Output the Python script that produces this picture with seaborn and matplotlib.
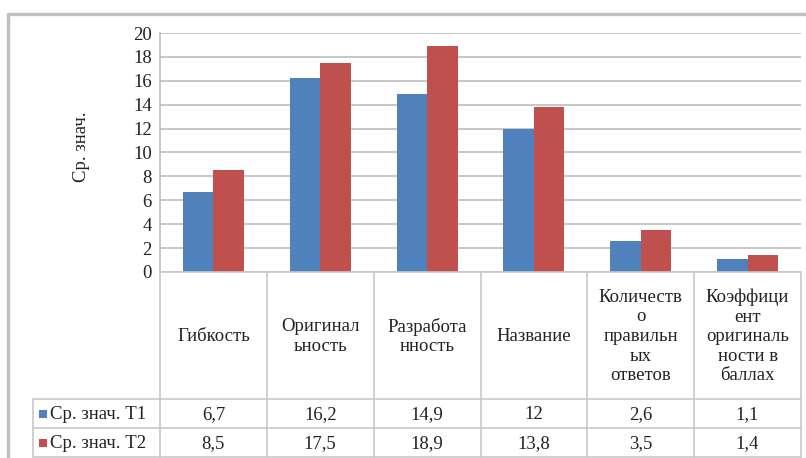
import matplotlib
matplotlib.use("Agg")
import matplotlib.pyplot as plt
from matplotlib import font_manager
import seaborn as sns
import pandas as pd
from matplotlib.lines import Line2D
from matplotlib.patches import Rectangle

# Data
categories = [
    "Гибкость",
    "Оригинал\nьность",
    "Разработа\nнность",
    "Название",
    "Количеств\nо\nправильн\nых\nответов",
    "Коэффици\nент\nоригиналь\nности в\nбаллах",
]
series_names = ["Ср. знач. Т1", "Ср. знач. Т2"]
t1_values = [6.7, 16.2, 14.9, 12, 2.6, 1.1]
t2_values = [8.5, 17.5, 18.9, 13.8, 3.5, 1.4]
y_ticks = [0, 2, 4, 6, 8, 10, 12, 14, 16, 18, 20]
colors = ["#4F81BD", "#C0504D"]

df = pd.DataFrame({
    "cat": categories * 2,
    "series": [series_names[0]] * len(categories) + [series_names[1]] * len(categories),
    "value": t1_values + t2_values,
})


def pick_serif():
    """Register a Times-like serif face from the system fonts, if any."""
    files = font_manager.findSystemFonts()
    prefs = ["liberationserif-regular", "timesnewroman", "times.ttf",
             "dejavuserif.ttf", "notoserif-regular"]
    for pref in prefs:
        for f in files:
            if pref in f.lower().replace(" ", ""):
                try:
                    font_manager.fontManager.addfont(f)
                    return font_manager.FontProperties(fname=f).get_name()
                except Exception:
                    pass
    for f in files:
        low = f.lower()
        if "serif" in low and "sans" not in low and "bold" not in low and "italic" not in low:
            try:
                font_manager.fontManager.addfont(f)
                return font_manager.FontProperties(fname=f).get_name()
            except Exception:
                pass
    return "DejaVu Serif"


sns.set_theme(style="white")
serif_name = pick_serif()
plt.rcParams["font.family"] = [serif_name, "DejaVu Serif", "DejaVu Sans"]

FS = 13.5
TXT = "#222222"

W, H = 806, 458
fig = plt.figure(figsize=(W / 100, H / 100), dpi=100)
fig.patch.set_facecolor("white")

# plot area in pixel coordinates
x0, x1 = 160, 801
y_top, y_zero = 33, 272
ax = fig.add_axes([x0 / W, 1 - y_zero / H, (x1 - x0) / W, (y_zero - y_top) / H])

sns.barplot(data=df, x="cat", y="value", hue="series", palette=colors,
            width=0.57, linewidth=0, saturation=1, ax=ax, legend=False)

ax.set_ylim(0, 20)
ax.set_xlim(-0.5, len(categories) - 0.5)
ax.set_yticks(y_ticks)
ax.set_yticklabels([str(t) for t in y_ticks], fontsize=FS, color=TXT)
ax.set_xticks([])
ax.set_xlabel("")
ax.set_ylabel("")
ax.tick_params(axis="y", length=0, pad=6)
ax.yaxis.grid(True, color="#BDBDBD", linewidth=1.2)
ax.set_axisbelow(True)
for side in ["top", "right", "bottom"]:
    ax.spines[side].set_visible(False)
ax.spines["left"].set_color("#BDBDBD")
ax.spines["left"].set_linewidth(1.2)

fig.text(82 / W, 1 - 147 / H, "Ср. знач.", rotation=90, fontsize=FS,
         ha="center", va="center", color=TXT)


def px(x, y):
    return x / W, 1 - y / H


def hline(xa, xb, y, color="#C8C8C8", lw=1.2):
    fig.add_artist(Line2D([xa / W, xb / W], [1 - y / H, 1 - y / H],
                          color=color, linewidth=lw, transform=fig.transFigure))


def vline(x, ya, yb, color="#C8C8C8", lw=1.2):
    fig.add_artist(Line2D([x / W, x / W], [1 - ya / H, 1 - yb / H],
                          color=color, linewidth=lw, transform=fig.transFigure))


# outer chart frame
hline(8, 806, 14, color="#BFBFBF", lw=2.4)
vline(8, 14, 458, color="#BFBFBF", lw=2.4)

# data table below the axis
col_w = (x1 - x0) / len(categories)
row_a, row_b, row_c, row_end = 272, 399, 428, 457
legend_x = 33
hline(x0, x1, row_a)
hline(legend_x, x1, row_b)
hline(legend_x, x1, row_c)
hline(legend_x, x1, row_end)
for i in range(len(categories) + 1):
    vline(x0 + i * col_w, row_a, row_end)
vline(legend_x, row_b, row_end)

for i, cat in enumerate(categories):
    cx = x0 + (i + 0.5) * col_w
    fig.text(*px(cx, (row_a + row_b) / 2 + 1), cat, ha="center", va="center",
             fontsize=FS, color=TXT, linespacing=1.2)
    for vals, (ya, yb) in ((t1_values, (row_b, row_c)), (t2_values, (row_c, row_end))):
        v = vals[i]
        label = str(v).replace(".", ",")
        if label.endswith(",0"):
            label = label[:-2]
        fig.text(*px(cx, (ya + yb) / 2 + 1), label, ha="center", va="center",
                 fontsize=FS, color=TXT)

for name, color, (ya, yb) in zip(series_names, colors,
                                 ((row_b, row_c), (row_c, row_end))):
    cy = (ya + yb) / 2
    fig.add_artist(Rectangle(px(39, cy + 4), 8 / W, 8 / H, color=color,
                             transform=fig.transFigure, linewidth=0))
    fig.text(*px(50, cy + 1), name, ha="left", va="center",
             fontsize=FS, color=TXT)

fig.savefig("out.png", dpi=100, facecolor="white")
